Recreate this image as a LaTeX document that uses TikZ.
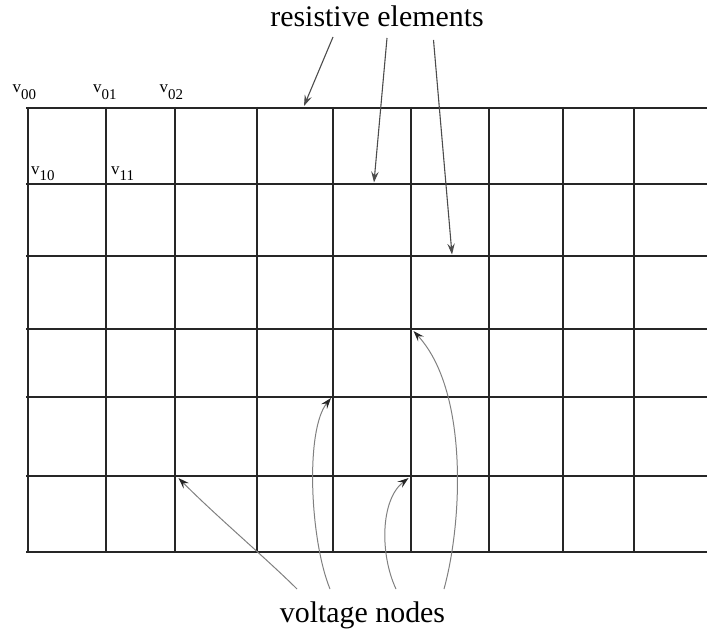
\documentclass[tikz,border=0pt]{standalone}
\usepackage{fontspec}
\setmainfont{Liberation Serif}
\usetikzlibrary{arrows.meta}
\tikzset{
  gridline/.style={line width=2bp, black!85},
  bigtext/.style={font=\fontsize{30}{36}\selectfont, inner sep=0pt, anchor=base},
  vlab/.style={font=\fontsize{17}{20}\selectfont, inner sep=0pt, anchor=base west},
  resarrow/.style={line width=1.1pt, black!70, -{Stealth[length=11pt, width=7.5pt, inset=4pt]}},
  voltarrow/.style={line width=1pt, black!50, -{Stealth[length=11pt, width=7.5pt, inset=4pt, black!85]}}
}
\newcommand{\vsub}[1]{v\raisebox{-6.5pt}{\fontsize{15}{18}\selectfont #1}}
\begin{document}
\begin{tikzpicture}[x=1bp, y=-1bp]
\useasboundingbox (0,0) rectangle (707,632);
% grid
\foreach \yy in {108,184,256,329,397,476,552}
  \draw[gridline] (26,\yy) -- (707,\yy);
\foreach \xx in {28,106,175,257,333,411,489,563,634}
  \draw[gridline] (\xx,107) -- (\xx,553);
% labels
\node[vlab] (v00) at (12.5,93) {\vsub{00}};
\node[vlab] (v01) at (93,93) {\vsub{01}};
\node[vlab] (v02) at (159.5,93) {\vsub{02}};
\node[vlab] (v10) at (31,174.5) {\vsub{10}};
\node[vlab] (v11) at (111,174.5) {\vsub{11}};
% texts
\node[bigtext] (res) at (377,27) {resistive elements};
\node[bigtext] (volt) at (362.5,622) {voltage nodes};
% resistive arrows
\coordinate (r1s) at (333,37);
\coordinate (r1e) at (304,106);
\coordinate (r2s) at (387,38);
\coordinate (r2e) at (374,182.5);
\coordinate (r3s) at (433.5,40);
\coordinate (r3e) at (452,254.5);
\draw[resarrow] (r1s) -- (r1e);
\draw[resarrow] (r2s) -- (r2e);
\draw[resarrow] (r3s) -- (r3e);
% voltage arrows
\coordinate (a1s) at (297,589);
\coordinate (a1e) at (178.5,478);
\coordinate (a2s) at (330,589);
\coordinate (a2e) at (331,398);
\coordinate (a3s) at (396,589);
\coordinate (a3e) at (408.5,478);
\coordinate (a4s) at (444,589);
\coordinate (a4e) at (413.5,331);
\draw[voltarrow] (a1s) .. controls (268,560) and (215,515) .. (a1e);
\draw[voltarrow] (a2s) .. controls (310,540) and (305,430) .. (a2e);
\draw[voltarrow] (a3s) .. controls (380,555) and (380,500) .. (a3e);
\draw[voltarrow] (a4s) .. controls (463,520) and (468,390) .. (a4e);
\end{tikzpicture}
\end{document}
